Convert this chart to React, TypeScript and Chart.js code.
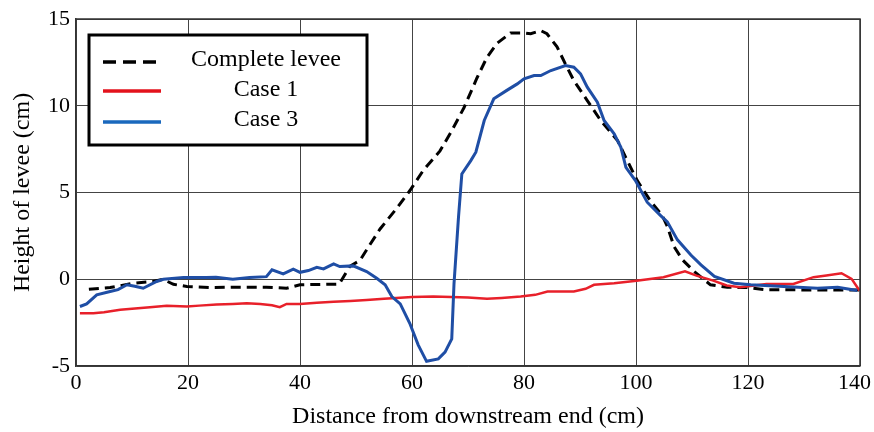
import React, { useEffect, useRef } from "react";
import { Chart, registerables } from "chart.js";

Chart.register(...registerables);

const FONT = "'Liberation Serif', 'Times New Roman', serif";

const xTicks = [0, 20, 40, 60, 80, 100, 120, 140];
const yTicks = [-5, 0, 5, 10, 15];

const seriesNames = ["Complete levee", "Case 1", "Case 3"];

const leveeX = [2.3, 6.1, 10.2, 13.8, 15.5, 17.4, 19.8, 24.5, 28, 34, 37.6, 40, 43, 47, 48.9, 50.7, 52.5, 54.3, 57.3, 59.6, 62, 65, 67, 69.3, 71.6, 73.4, 75.2, 77.6, 80, 81.2, 83, 84.1, 85.9, 87.4, 88.9, 91.3, 93.7, 96.7, 98.2, 100.2, 102.6, 104.7, 105.6, 106.8, 108.3, 110.4, 113.3, 116.3, 119.9, 123.4, 127, 131, 135, 140];
const leveeY = [-0.58, -0.48, -0.23, -0.13, 0, -0.29, -0.42, -0.48, -0.46, -0.46, -0.52, -0.32, -0.3, -0.28, 0.75, 1.08, 2.0, 2.9, 4.1, 5.1, 6.27, 7.4, 8.5, 9.9, 11.6, 12.8, 13.6, 14.2, 14.2, 14.15, 14.33, 14.15, 13.4, 12.4, 11.45, 10.3, 9.15, 8.0, 7.0, 5.7, 4.5, 3.67, 3.04, 1.88, 1.12, 0.44, -0.32, -0.46, -0.48, -0.61, -0.6, -0.62, -0.62, -0.62];

const case1X = [0.7, 3.1, 5, 7.9, 10, 13.2, 16.2, 19.8, 22, 25.1, 28, 30.5, 32.9, 35, 36.4, 37.6, 40, 43, 46, 49, 51.9, 55, 57.9, 60, 63.8, 67, 70, 73.4, 76, 79.4, 82, 84.2, 88.9, 91, 92.5, 96.1, 100.1, 104.9, 108.75, 110.8, 113.8, 116.2, 118.6, 123.3, 128.1, 131.7, 134, 136.7, 138.5, 139.9];
const case1Y = [-1.96, -1.96, -1.9, -1.76, -1.7, -1.61, -1.53, -1.57, -1.52, -1.46, -1.42, -1.38, -1.42, -1.5, -1.61, -1.42, -1.42, -1.36, -1.3, -1.25, -1.19, -1.12, -1.07, -1.02, -1.0, -1.02, -1.05, -1.13, -1.08, -1.0, -0.9, -0.71, -0.71, -0.55, -0.32, -0.23, -0.08, 0.12, 0.46, 0.21, -0.08, -0.36, -0.46, -0.27, -0.27, 0.12, 0.22, 0.35, 0.02, -0.65];

const case3X = [0.7, 1.9, 3.7, 6.1, 7.5, 9.1, 10.5, 12.0, 14.4, 15.6, 19.2, 23.3, 25, 28, 31, 34, 35, 37, 38.8, 40, 41.5, 43, 44.2, 46, 47.1, 49.5, 51.9, 53.7, 55.2, 56.4, 57.9, 59.6, 61.1, 62.6, 64.7, 65.9, 67.1, 67.5, 68.3, 68.9, 70.5, 71.4, 72.9, 74.6, 77, 78.8, 80, 81.8, 83, 84.8, 87.4, 88.9, 90.1, 91.3, 93.1, 94.3, 96.1, 97.3, 98.2, 99.9, 102, 104.4, 105.6, 107.4, 109.8, 111.6, 114, 117.5, 120.5, 126.4, 132.4, 136, 139.5];
const case3Y = [-1.57, -1.42, -0.9, -0.71, -0.6, -0.32, -0.4, -0.52, -0.13, 0, 0.1, 0.1, 0.12, 0, 0.1, 0.15, 0.54, 0.31, 0.58, 0.4, 0.5, 0.69, 0.6, 0.89, 0.73, 0.77, 0.44, 0.06, -0.32, -1.0, -1.42, -2.54, -3.78, -4.73, -4.59, -4.2, -3.44, -0.27, 3.57, 6.07, 6.84, 7.32, 9.15, 10.4, 10.9, 11.26, 11.55, 11.74, 11.74, 12.03, 12.32, 12.22, 11.84, 11.07, 10.2, 9.15, 8.38, 7.6, 6.45, 5.69, 4.44, 3.67, 3.3, 2.27, 1.4, 0.83, 0.16, -0.23, -0.32, -0.42, -0.52, -0.46, -0.65];

const toPoints = (xs: number[], ys: number[]) => xs.map((x, i) => ({ x, y: ys[i] }));

const LAST_X = xTicks[xTicks.length - 1];

const legendPlugin = {
  id: "boxLegend",
  afterDraw(chart: any) {
    const ctx = chart.ctx;
    ctx.save();
    const bx = 89, by = 35, bw = 278, bh = 110;
    ctx.fillStyle = "#ffffff";
    ctx.fillRect(bx, by, bw, bh);
    ctx.strokeStyle = "#000000";
    ctx.lineWidth = 3;
    ctx.strokeRect(bx, by, bw, bh);
    const items = [
      { color: "#000000", dash: [13, 7], y: 62, ty: 66 },
      { color: "#e3121c", dash: [], y: 91, ty: 96 },
      { color: "#1a68bd", dash: [], y: 122, ty: 126 },
    ];
    items.forEach((it, i) => {
      ctx.beginPath();
      ctx.setLineDash(it.dash);
      ctx.strokeStyle = it.color;
      ctx.lineWidth = 3.5;
      ctx.moveTo(103, it.y);
      ctx.lineTo(161, it.y);
      ctx.stroke();
      ctx.setLineDash([]);
      ctx.fillStyle = "#000000";
      ctx.font = `24px ${FONT}`;
      ctx.textAlign = "center";
      ctx.textBaseline = "alphabetic";
      ctx.fillText(seriesNames[i], 266, it.ty);
    });
    ctx.restore();
  },
};

const lastLabelPlugin = {
  id: "lastLabel",
  afterDraw(chart: any) {
    const scale = chart.scales.x;
    const items = scale._labelItems || [];
    const item = items.find((it: any) => String(it.label) === String(LAST_X));
    if (!item) return;
    const ctx = chart.ctx;
    ctx.save();
    ctx.font = `22px ${FONT}`;
    ctx.fillStyle = "#000";
    const w = ctx.measureText(String(LAST_X)).width;
    const cx = Math.min(item.options.translation[0], chart.width - 3 - w / 2);
    ctx.textAlign = "center";
    ctx.textBaseline = item.options.textBaseline;
    ctx.fillText(String(LAST_X), cx, item.options.translation[1] + (item.textOffset || 0));
    ctx.restore();
  },
};

export default function App() {
  const ref = useRef<HTMLCanvasElement | null>(null);
  useEffect(() => {
    if (!ref.current) return;
    const chart = new Chart(ref.current, {
      type: "line",
      data: {
        datasets: [
          {
            label: seriesNames[2],
            data: toPoints(case3X, case3Y),
            borderColor: "#1f4ea5",
            borderWidth: 3,
            pointRadius: 0,
            tension: 0,
            order: 0,
          },
          {
            label: seriesNames[1],
            data: toPoints(case1X, case1Y),
            borderColor: "#e8202a",
            borderWidth: 2.5,
            pointRadius: 0,
            tension: 0,
            order: 1,
          },
          {
            label: seriesNames[0],
            data: toPoints(leveeX, leveeY),
            borderColor: "#000000",
            borderWidth: 3,
            borderDash: [10, 6],
            pointRadius: 0,
            tension: 0,
            order: 2,
          },
        ],
      },
      options: {
        responsive: false,
        animation: false,
        layout: { padding: { left: 0, right: 14, top: 19, bottom: 0 } },
        plugins: { legend: { display: false }, tooltip: { enabled: false } },
        scales: {
          x: {
            type: "linear",
            min: 0,
            max: 140,
            afterBuildTicks: (s: any) => {
              s.ticks = xTicks.map((v) => ({ value: v }));
            },
            afterFit: (s: any) => {
              s.height = 66;
              s.paddingLeft = 0;
              s.paddingRight = 0;
            },
            ticks: {
              color: (c: any) => (c.tick && c.tick.value === LAST_X ? "rgba(0,0,0,0)" : "#000"),
              font: { family: FONT, size: 22 },
              padding: 4,
              maxRotation: 0,
            },
            grid: { color: "#444", lineWidth: 1, drawTicks: false },
            border: { color: "#333", width: 1.5 },
            title: {
              display: true,
              text: "Distance from downstream end (cm)",
              color: "#000",
              font: { family: FONT, size: 24, lineHeight: 1.2 },
              padding: { top: 0, bottom: 1 },
            },
          },
          y: {
            type: "linear",
            min: -5,
            max: 15,
            afterBuildTicks: (s: any) => {
              s.ticks = yTicks.map((v) => ({ value: v }));
            },
            afterFit: (s: any) => {
              s.width = 76;
              s.paddingTop = 0;
              s.paddingBottom = 0;
            },
            ticks: {
              color: "#000",
              font: { family: FONT, size: 22 },
              padding: 6,
            },
            grid: { color: "#444", lineWidth: 1, drawTicks: false },
            border: { color: "#333", width: 1.5 },
            title: {
              display: true,
              text: "Height of levee (cm)",
              color: "#000",
              font: { family: FONT, size: 24, lineHeight: 1.2 },
              padding: { top: 8, bottom: 0 },
            },
          },
        },
      },
      plugins: [
        legendPlugin,
        lastLabelPlugin,
        {
          id: "frame",
          afterDatasetsDraw(chart: any) {
            const { ctx, chartArea: a } = chart;
            ctx.save();
            ctx.strokeStyle = "#333";
            ctx.lineWidth = 1.5;
            ctx.beginPath();
            ctx.moveTo(a.left, a.top);
            ctx.lineTo(a.right, a.top);
            ctx.lineTo(a.right, a.bottom);
            ctx.stroke();
            ctx.restore();
          },
        },
      ],
    } as any);
    return () => chart.destroy();
  }, []);
  return (
    <div style={{ position: "absolute", left: 0, top: 0, width: 874, height: 432, background: "#fff" }}>
      <canvas ref={ref} width={874} height={432} style={{ display: "block" }} />
    </div>
  );
}
